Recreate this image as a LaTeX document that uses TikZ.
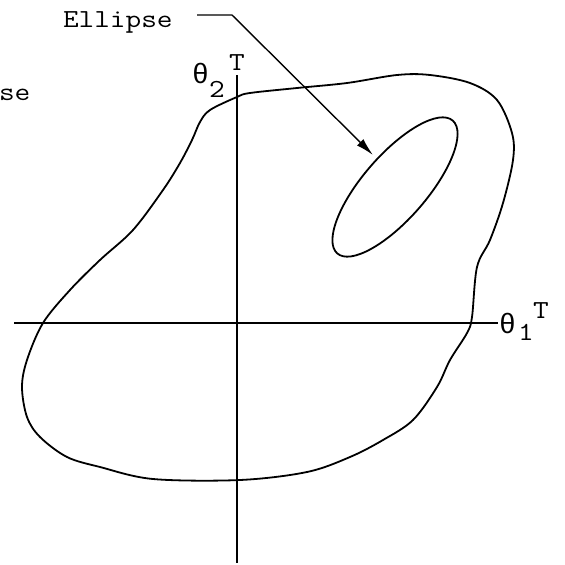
\documentclass[tikz,border=0pt]{standalone}
\usepackage{fontspec}
\usepackage{graphicx}
\newfontfamily\gkfont{Liberation Mono}
\newcommand\wideTT[1]{\scalebox{1.17}[1]{#1}}
\usetikzlibrary{arrows.meta}
\begin{document}
\begin{tikzpicture}[x=1pt,y=-1pt,
  lbl/.style={anchor=base west,inner sep=0pt,outer sep=0pt,font=\ttfamily\fontsize{26}{30}\selectfont},
  glbl/.style={anchor=base west,inner sep=0pt,outer sep=0pt,font=\gkfont\fontsize{28}{30}\selectfont},
  axis/.style={line width=1.4pt},
  curve/.style={line width=1.8pt}]
\useasboundingbox (0,0) rectangle (565,565);
% axes
\coordinate (vtop) at (237,75);
\coordinate (vbot) at (237,563);
\coordinate (hl) at (14,323);
\coordinate (hr) at (498,323);
\draw[axis] (vtop) -- (vbot);
\draw[axis] (hl) -- (hr);
% axis labels
\node[glbl] (th2) at (192,83) {θ};
\node[lbl] (s2) at (209,97) {\wideTT{2}};
\node[lbl] (t2) at (229,70) {\wideTT{T}};
\node[glbl] (th1) at (499,333) {θ};
\node[lbl] (s1) at (518,340) {\wideTT{1}};
\node[lbl] (t1) at (533,318) {\wideTT{T}};
% region boundary
\draw[curve] plot[smooth cycle, tension=0.55] coordinates {
 (237,97) (250,93) (297,88) (347,83) (397,75) (430,75) (470,83) (497,100)
 (512,133) (513,160) (503,203) (490,240) (477,267) (472,317) (467,333)
 (450,360) (437,387) (413,420) (383,440) (350,457) (307,472) (240,480)
 (153,479) (100,467) (67,457) (40,437) (27,417) (22,387) (27,360) (43,323)
 (70,290) (100,260) (133,230) (163,190) (180,163) (192,140) (200,122) (210,110)};
% ellipse
\draw[curve, rotate around={49:(395,187)}] (395,187) ellipse [x radius=88pt, y radius=32pt];
% labels
\node[lbl] (ell) at (63,27) {\wideTT{Ellipse}};
\node[lbl] (se) at (-1,100) {\wideTT{se}};
\coordinate (lstart) at (197,15);
\coordinate (bend) at (232,15);
\coordinate (tip) at (373,155);
\draw[line width=1.4pt, -{Latex[length=18pt,width=9pt]}] (lstart) -- (bend) -- (tip);
\end{tikzpicture}
\end{document}
